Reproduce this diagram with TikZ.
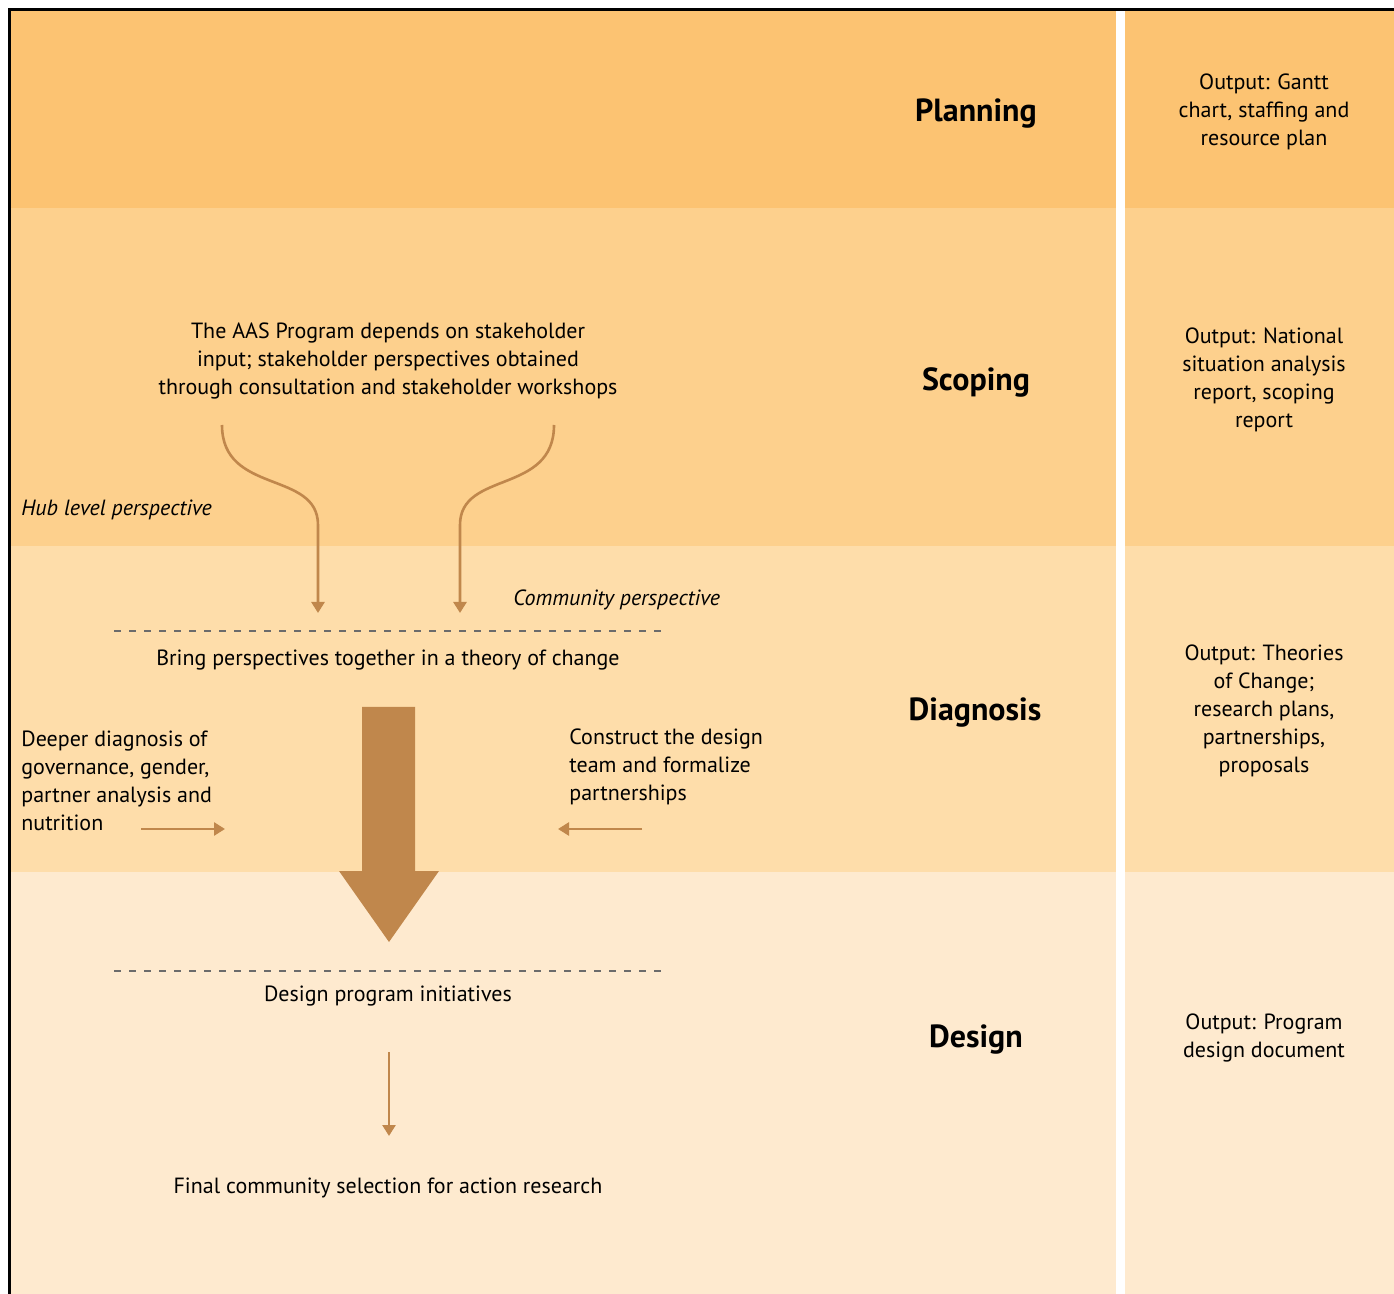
\documentclass[tikz,border=0pt]{standalone}
\usepackage{fontspec}
\setmainfont{PT Sans}
\usepackage{xcolor}
\usetikzlibrary{arrows.meta}
\definecolor{planband}{HTML}{FCC372}
\definecolor{scopeband}{HTML}{FDD08D}
\definecolor{diagband}{HTML}{FEDDAA}
\definecolor{designband}{HTML}{FEEACF}
\definecolor{flowbrown}{HTML}{C0874C}
\definecolor{dashgray}{HTML}{6B6B6B}
\tikzstyle{phase} = [font=\fontsize{16}{19}\selectfont\bfseries, text centered]
\tikzstyle{output} = [font=\fontsize{11}{14}\selectfont, align=center, inner sep=0pt]
\tikzstyle{body} = [font=\fontsize{11}{14}\selectfont, align=center, inner sep=0pt]
\tikzstyle{side} = [font=\fontsize{11}{14}\selectfont, align=left, anchor=west, inner sep=0pt]
\tikzstyle{persp} = [font=\fontsize{11}{14}\selectfont\itshape, anchor=west, inner sep=0pt]
\tikzstyle{arrow} = [line width=1.3pt, draw=flowbrown, -{Triangle[width=6.5pt,length=5.5pt]}]
\tikzstyle{divider} = [line width=0.6pt, draw=dashgray, dash pattern=on 3.5pt off 4pt]

\begin{document}
\begin{tikzpicture}[x=0.5pt, y=-0.5pt]
			\useasboundingbox (0,0) rectangle (1394,1294);
			% bands
			\fill [planband] (10,10) rectangle (1116,208);
			\fill [planband] (1125,10) rectangle (1394,208);
			\fill [scopeband] (10,208) rectangle (1116,546);
			\fill [scopeband] (1125,208) rectangle (1394,546);
			\fill [diagband] (10,546) rectangle (1116,872);
			\fill [diagband] (1125,546) rectangle (1394,872);
			\fill [designband] (10,872) rectangle (1116,1294);
			\fill [designband] (1125,872) rectangle (1394,1294);
			\draw [line width=1.5pt, line cap=rect] (9,1294) -- (9,10) -- (1394,10);

			% phases and outputs
			\node (planning) [phase] at (976,114) {Planning};
			\node (scoping) [phase] at (976,382) {Scoping};
			\node (diagnosis) [phase] at (975,713) {Diagnosis};
			\node (design) [phase] at (976,1040) {Design};
			\node (outplan) [output] at (1264,112) {Output: Gantt\\chart, staffing and\\resource plan};
			\node (outscope) [output] at (1264,380) {Output: National\\situation analysis\\report, scoping\\report};
			\node (outdiag) [output] at (1264,711) {Output: Theories\\of Change;\\research plans,\\partnerships,\\proposals};
			\node (outdesign) [output] at (1264,1038) {Output: Program\\design document};

			% flow
			\node (aas) [body] at (388,361) {The AAS Program depends on stakeholder\\input; stakeholder perspectives obtained\\through consultation and stakeholder workshops};
			\node (hub) [persp] at (21,510) {Hub level perspective};
			\node (community) [persp] at (513,600) {Community perspective};
			\node (bring) [body] at (388,660) {Bring perspectives together in a theory of change};
			\node (deeper) [side] at (21,781) {Deeper diagnosis of\\governance, gender,\\partner analysis and\\nutrition};
			\node (construct) [side] at (569,767) {Construct the design\\team and formalize\\partnerships};
			\node (initiatives) [body] at (388,996) {Design program initiatives};
			\node (final) [body] at (388,1188) {Final community selection for action research};

			\coordinate (hubstart) at (222,425);
			\coordinate (hubend) at (318,613);
			\coordinate (comstart) at (554,425);
			\coordinate (comend) at (460,613);
			\coordinate (deeperstart) at (141,829);
			\coordinate (deeperend) at (225,829);
			\coordinate (constructstart) at (642,829);
			\coordinate (constructend) at (558,829);
			\coordinate (initstart) at (389,1052);
			\coordinate (initend) at (389,1136);

			\draw [arrow] (hubstart) .. controls (222,495) and (318,470) .. (318,525) -- (hubend);
			\draw [arrow] (comstart) .. controls (554,495) and (460,470) .. (460,525) -- (comend);
			\draw [divider] (114,631) -- (664,631);
			\draw [divider] (114,971) -- (664,971);
			\fill [flowbrown] (362,707) -- (415,707) -- (415,871) -- (439,871) -- (389,942) -- (339,871) -- (362,871) -- cycle;
			\draw [arrow] (deeperstart) -- (deeperend);
			\draw [arrow] (constructstart) -- (constructend);
			\draw [arrow] (initstart) -- (initend);
		\end{tikzpicture}
\end{document}
